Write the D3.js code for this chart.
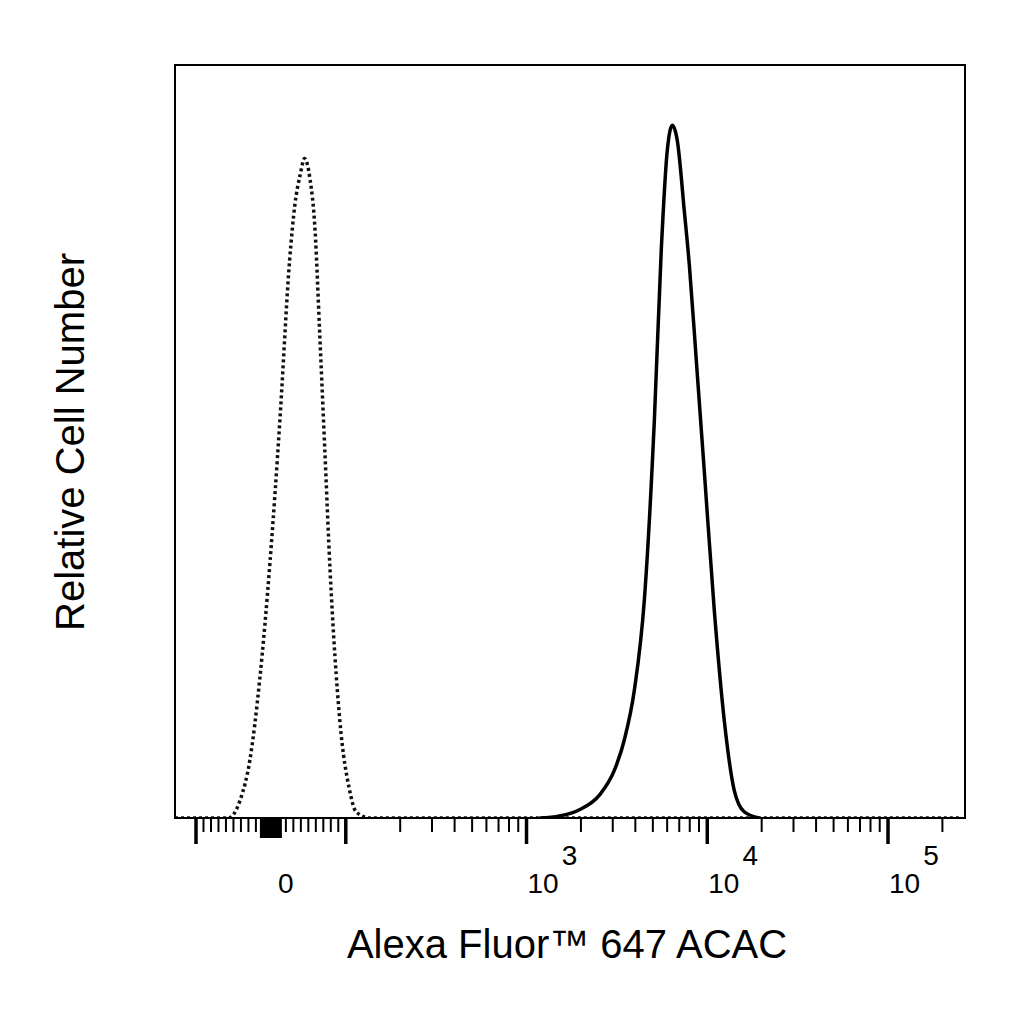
<!DOCTYPE html><html><head><script src="https://cdn.jsdelivr.net/npm/d3@7"></script>
<style>body{margin:0;background:#fff}</style></head><body><script>
const dottedX=[-128,-57,-41,-28,-15,-1,12,25,32,39,45,52,59,65,72,79,92,105,114,136,250000];
const dottedY=[0,0,2.6,8.4,19.9,37.2,57.4,80.5,88.5,92.8,95.2,92.4,84.8,70.4,53.1,35.8,14.1,4,0.9,0,0];
const solidX=[1180,1522,1963,2531,3064,3478,3953,4487,5096,5566,6010,6410,6827,7460,7960,8694,9620,10934,12417,14099,16007,19380];
const solidY=[0,0.3,1.2,3.3,6.9,11.3,18.5,31.5,57.4,82,96.4,100,97.8,87.7,79.8,66.1,50.2,30,14.1,4,0.9,0];
const majorTicks=[-100,100,1000,10000,100000];
const labelTicks=[{v:0,t:"0"},{v:1000,t:"10",e:"3"},{v:10000,t:"10",e:"4"},{v:100000,t:"10",e:"5"}];
const T=v=>v>=100?Math.log10(v/100):(v-100)/100*(75/181);
const L=175,R=965,Tp=65,B=818;
const sx=d3.scaleLinear().domain([T(-100),T(100000)]).range([196,888]);
const X=v=>sx(T(v));
const y=d3.scaleLinear().domain([0,108.7]).range([B,Tp]);
const svg=d3.select("body").append("svg").attr("width",1024).attr("height",1024);
svg.append("clipPath").attr("id","c").append("rect").attr("x",L).attr("y",Tp).attr("width",R-L).attr("height",B-Tp+1);
const line=d3.line().x(d=>X(d[0])).y(d=>y(d[1])).curve(d3.curveMonotoneX);
const g=svg.append("g").attr("clip-path","url(#c)");
g.append("path").datum(dottedX.map((v,i)=>[v,dottedY[i]])).attr("d",line).attr("fill","none").attr("stroke","#111").attr("stroke-width",3.5).attr("stroke-dasharray","3,3");
g.append("path").datum(solidX.map((v,i)=>[v,solidY[i]])).attr("d",line).attr("fill","none").attr("stroke","#000").attr("stroke-width",3.5);
svg.append("rect").attr("x",L).attr("y",Tp).attr("width",R-L).attr("height",B-Tp).attr("fill","none").attr("stroke","#000").attr("stroke-width",2);
const minor=[];
for(let v=-90;v<100;v+=10) minor.push(v);
for(let v=-12;v<=12;v+=3) minor.push(v);
for(const d of [100,1000,10000,100000]) for(let k=2;k<=9;k++){if(d*k<240000)minor.push(d*k);}
svg.selectAll(".mn").data(minor.filter(v=>X(v)<=R)).enter().append("line").attr("x1",v=>X(v)).attr("x2",v=>X(v)).attr("y1",B).attr("y2",B+14).attr("stroke","#000").attr("stroke-width",2);
svg.selectAll(".mj").data(majorTicks).enter().append("line").attr("x1",v=>X(v)).attr("x2",v=>X(v)).attr("y1",B).attr("y2",B+26).attr("stroke","#000").attr("stroke-width",3.5);
svg.append("rect").attr("x",X(-12)-2).attr("y",B).attr("width",X(12)-X(-12)+4).attr("height",20).attr("fill","#000");
const lab=svg.selectAll(".lb").data(labelTicks).enter().append("text").attr("font-family","Liberation Sans, Arial, sans-serif").attr("font-size",28).attr("y",893);
lab.filter(d=>!d.e).attr("x",d=>X(d.v)+15).attr("text-anchor","middle").text(d=>d.t);
lab.filter(d=>d.e).each(function(d){
  const s=d3.select(this).attr("x",X(d.v)+1);
  s.append("tspan").text(d.t);
  s.append("tspan").attr("dy",-28).attr("dx",3).text(d.e);});
svg.append("text").attr("x",567).attr("y",958).attr("text-anchor","middle").attr("font-family","Liberation Sans, Arial, sans-serif").attr("font-size",40).text("Alexa Fluor™ 647 ACAC");
svg.append("text").attr("transform","translate(84,442) rotate(-90)").attr("text-anchor","middle").attr("font-family","Liberation Sans, Arial, sans-serif").attr("font-size",40).text("Relative Cell Number");
</script></body></html>
